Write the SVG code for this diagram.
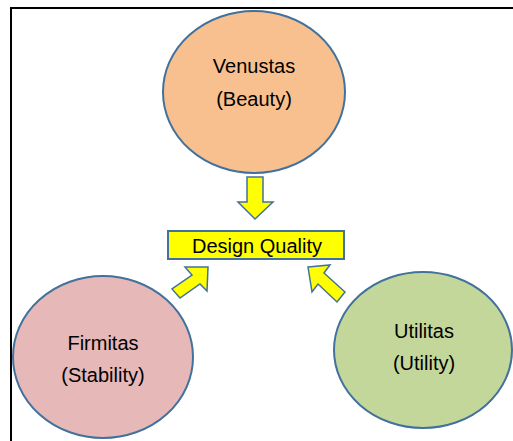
<svg xmlns="http://www.w3.org/2000/svg" width="513" height="441" viewBox="0 0 513 441">
<style>
.lbl{font-family:"Liberation Sans",Arial,sans-serif;font-size:20px;fill:#000;text-anchor:middle}
.node{stroke:#41719C;stroke-width:2}
.arrow{fill:#FFFF00;stroke:#41719C;stroke-width:1.5;stroke-linejoin:miter}
</style>
<rect width="513" height="441" fill="#fff"/>
<path d="M11,441 V8 H513" fill="none" stroke="#000" stroke-width="2"/>
<g id="venustas">
<ellipse class="node" cx="254" cy="92" rx="91" ry="81" fill="#F9C08F"/>
<text class="lbl" x="254" y="73">Venustas</text>
<text class="lbl" x="254" y="106">(Beauty)</text>
</g>
<g id="firmitas">
<ellipse class="node" cx="103" cy="357" rx="90" ry="81" fill="#E6B8B7"/>
<text class="lbl" x="103" y="350">Firmitas</text>
<text class="lbl" x="103" y="382">(Stability)</text>
</g>
<g id="utilitas">
<ellipse class="node" cx="423" cy="350" rx="89" ry="78" fill="#C4D79B"/>
<text class="lbl" x="424" y="338">Utilitas</text>
<text class="lbl" x="424" y="370">(Utility)</text>
</g>
<g id="design-quality">
<rect x="168" y="231" width="176" height="28" fill="#FFFF00" stroke="#41719C" stroke-width="2"/>
<text class="lbl" x="257" y="253">Design Quality</text>
</g>
<g id="connectors">
<polygon class="arrow" points="247,177 263,177 263,202 273,202 255,219 238,202 247,202"/>
<polygon class="arrow" points="208,267 185,267 192,275 172,289 180,298 200,284 207,291"/>
<polygon class="arrow" points="308,267 330,265 324,273 345,292 337,302 318,284 312,292"/>
</g>
</svg>
